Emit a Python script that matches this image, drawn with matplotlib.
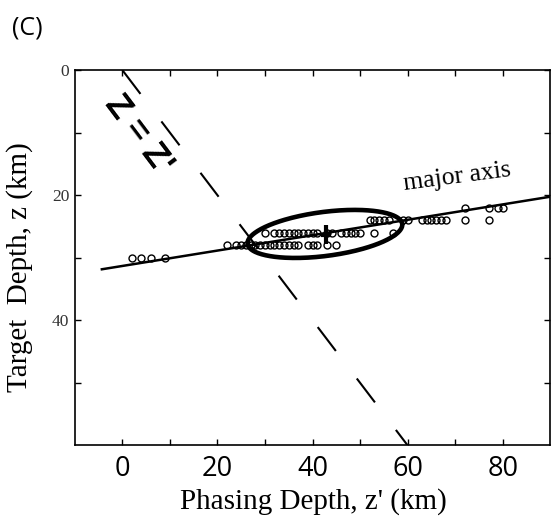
import numpy as np
import matplotlib
matplotlib.use("Agg")
import matplotlib.pyplot as plt
from matplotlib.ticker import FixedLocator

# phasing depth (z') of events, grouped by target depth (z)
z_rows = [30, 28, 26, 24, 22]
zp_rows = [
    [2, 4, 6, 9],
    [22, 24, 25, 26, 27, 28, 29, 30, 31, 32, 33, 34, 35, 36, 37, 39, 40, 41, 43, 45],
    [30, 32, 33, 34, 35, 36, 37, 38, 39, 40, 41, 43, 44, 46, 47, 48, 49, 50, 53, 57],
    [52, 53, 54, 55, 56, 59, 60, 63, 64, 65, 66, 67, 68, 72, 77],
    [72, 77, 79, 80],
]

# fitted major axis: z = axis_z0 + axis_slope * z'
axis_z0 = 31.32
axis_slope = -0.123
axis_zp = [-4.3, 92]

# error ellipse (centre, semi-major and semi-minor vectors in km)
ell_center = (42.6, 26.2)
ell_major = (16.26, -1.60)
ell_minor = (0.59, 3.49)

# centroid with its spread
cen_zp, cen_z = 42.8, 26.3
cen_err_zp, cen_err_z = 1.1, 1.5

serif = "Liberation Serif"
sans = "Open Sans"

fig = plt.figure(figsize=(5.52, 5.22), dpi=100)
ax = fig.add_axes([0.1354, 0.1467, 0.8616, 0.7192])

# z = z' reference line
ax.plot([0, 60], [0, 60], color="black", lw=1.5, dashes=(14.4, 16.6))

xs = np.concatenate([np.asarray(r, float) for r in zp_rows])
ys = np.concatenate([np.full(len(r), z, float) for r, z in zip(zp_rows, z_rows)])
ax.plot(xs, ys, "o", ms=5, mfc="none", mec="black", mew=1.0)

ax.plot(axis_zp, [axis_z0 + axis_slope * x for x in axis_zp], color="black", lw=1.8)

t = np.linspace(0, 2 * np.pi, 300)
ex = ell_center[0] + ell_major[0] * np.cos(t) + ell_minor[0] * np.sin(t)
ey = ell_center[1] + ell_major[1] * np.cos(t) + ell_minor[1] * np.sin(t)
ax.plot(ex, ey, color="black", lw=3.3, solid_capstyle="round")

ax.errorbar([cen_zp], [cen_z], xerr=cen_err_zp, yerr=cen_err_z, fmt="none",
            ecolor="black", elinewidth=3, capsize=0)

ax.text(70.4, 17.05, "major axis", fontsize=18.5, family=serif,
        rotation=7.5, rotation_mode="anchor", ha="center", va="center")
ax.text(3.4, 10.3, "Z = Z'", fontsize=25, family="Liberation Sans", weight="bold",
        rotation=-53, rotation_mode="anchor", ha="center", va="center")

ax.set_xlim(-10, 90)
ax.set_ylim(60, 0)

ax.xaxis.set_major_locator(FixedLocator([0, 20, 40, 60, 80]))
ax.xaxis.set_minor_locator(FixedLocator([10, 30, 50, 70]))
ax.yaxis.set_major_locator(FixedLocator([0, 20, 40]))
ax.yaxis.set_minor_locator(FixedLocator([10, 30, 50]))
ax.tick_params(which="both", direction="in", top=True, right=True,
               length=4, width=1.0)
ax.tick_params(axis="x", which="major", pad=7, labelsize=19.5)
ax.tick_params(axis="y", which="major", pad=4, labelsize=12.5, labelcolor="#333333")
for lab in ax.get_xticklabels():
    lab.set_family(sans)
for lab in ax.get_yticklabels():
    lab.set_family(serif)
for sp in ax.spines.values():
    sp.set_linewidth(1.2)

ax.set_xlabel("Phasing Depth, z' (km)", fontsize=21, family=serif)
ax.set_ylabel("Target  Depth, z (km)", fontsize=21, family=serif)
ax.xaxis.set_label_coords(0.502, -0.113)
ax.yaxis.set_label_coords(-0.088, 0.475)

fig.text(0.05, 0.946, "(C)", fontsize=18, family=sans, ha="center", va="center")

fig.savefig("out.png", dpi=100)
